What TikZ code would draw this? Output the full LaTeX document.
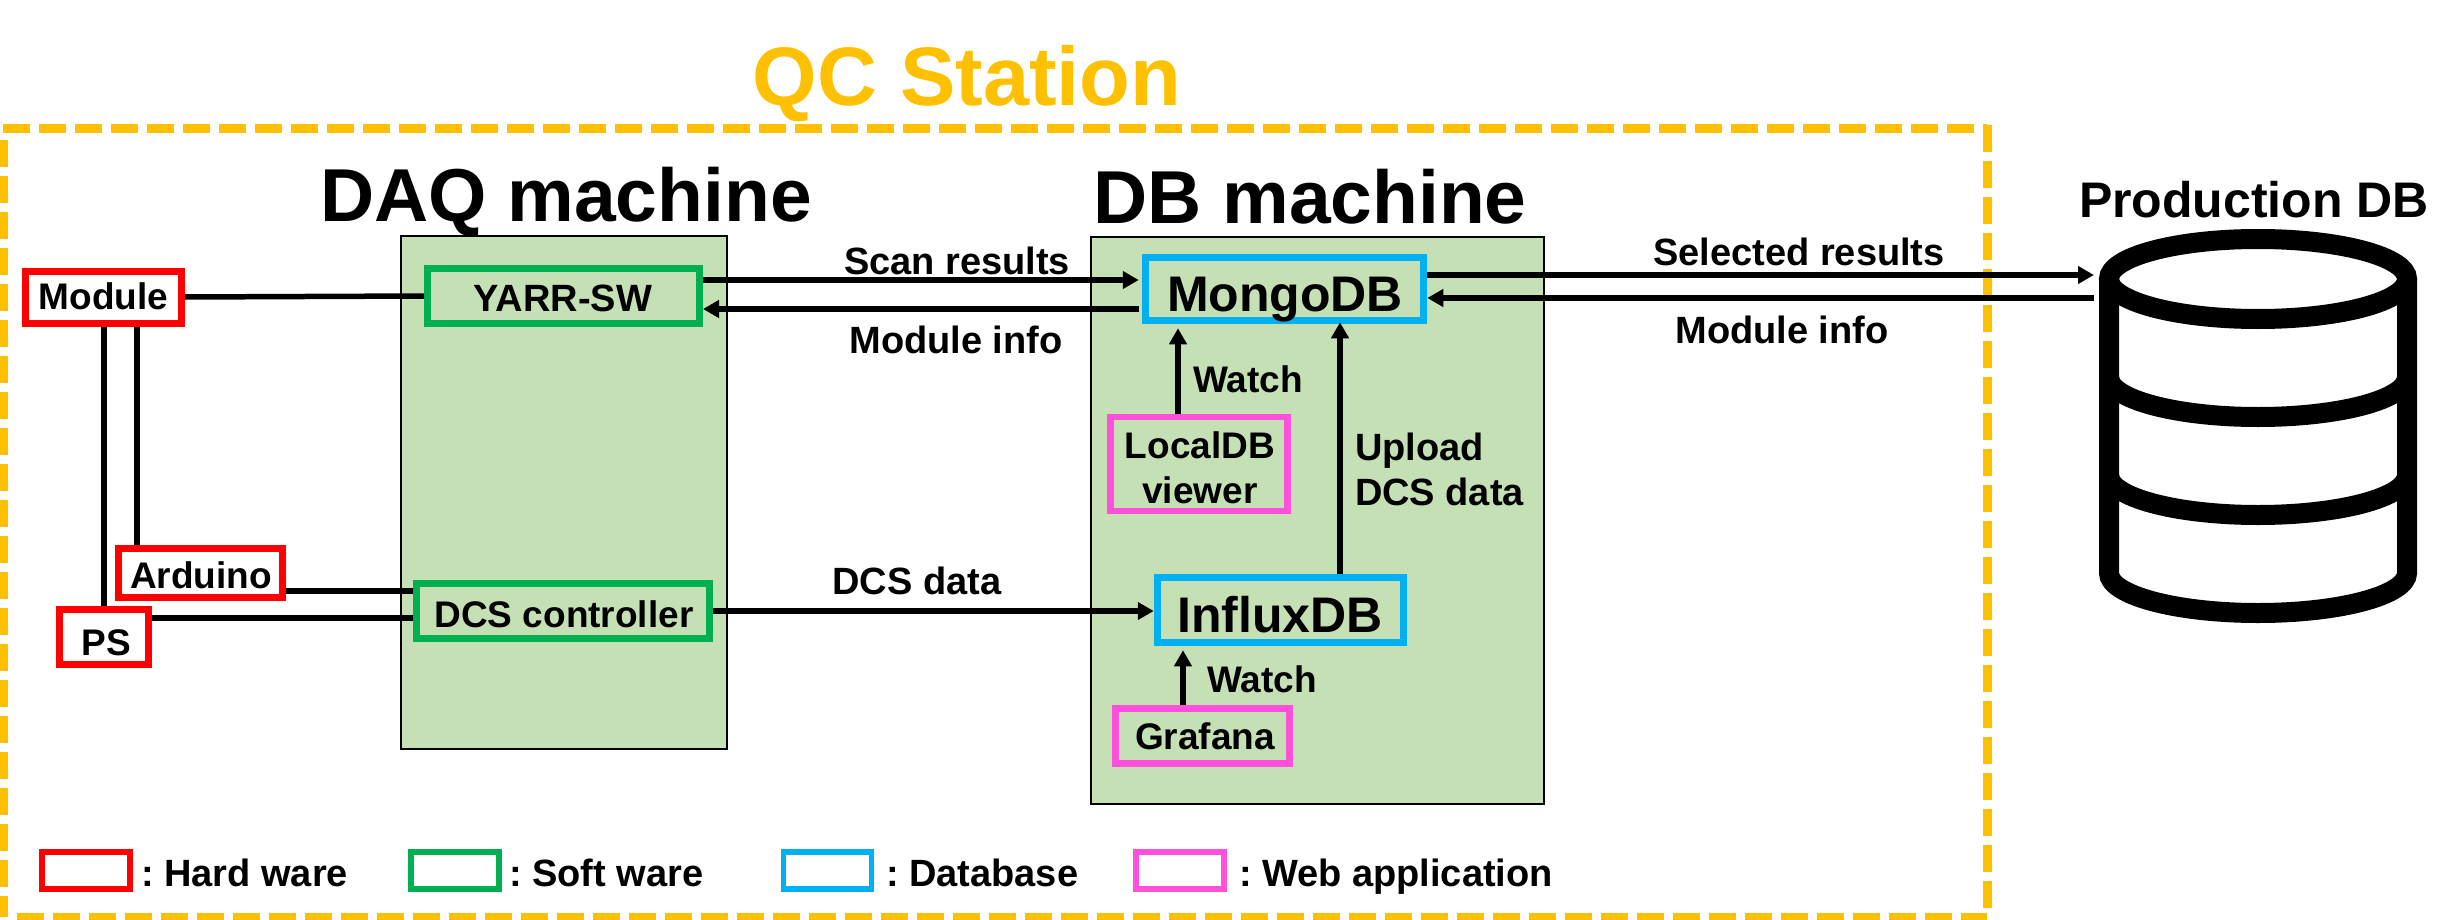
\documentclass[tikz,border=0pt]{standalone}
\usepackage{fontspec}
\setmainfont{Liberation Sans}[BoldFont={Liberation Sans Bold}]
\usetikzlibrary{arrows.meta}
\definecolor{qcorange}{RGB}{255,192,0}
\definecolor{machgreen}{RGB}{197,224,180}
\definecolor{hwred}{RGB}{255,0,0}
\definecolor{swgreen}{RGB}{0,176,80}
\definecolor{dbblue}{RGB}{0,176,240}
\definecolor{webpink}{RGB}{255,80,220}
\newcommand{\fs}[1]{\fontsize{#1}{#1}\selectfont\bfseries\frenchspacing}
\tikzset{
  x=1pt,y=-1pt,
  machine/.style={draw=black,line width=2.5pt,fill=machgreen},
  hw/.style={draw=hwred,line width=7pt,fill=white},
  sw/.style={draw=swgreen,line width=7pt},
  dbx/.style={draw=dbblue,line width=7.5pt},
  web/.style={draw=webpink,line width=6.5pt},
  box/.style={inner sep=0pt,align=center},
  lbl/.style={inner sep=0pt,outer sep=0pt,anchor=base,text=black},
  lbw/.style={lbl,anchor=base west},
  dashside/.style={qcorange,line width=9pt,dash pattern=on 27pt off 9pt},
  legendbox/.style={line width=5.5pt},
  wire/.style={line width=5.5pt,draw=black},
  arr/.style={wire,-{Triangle[length=16pt,width=17pt]}},
  bar/.style={line width=20pt,draw=black}
}
\begin{document}
\begin{tikzpicture}
\useasboundingbox (0,0) rectangle (2464,920);
% QC frame
\node[lbl,text=qcorange] (qc) at (967,106) {\fs{83}QC Station};
\draw[dashside] (3,129) -- (1987,129);
\draw[dashside] (1987,125) -- (1987,917);
\draw[dashside] (17,917) -- (1987,917);
\draw[dashside] (3,140) -- (3,917);
% machines
\draw[machine] (401,236) rectangle (727,749);
\draw[machine] (1091,237) rectangle (1544,804);
\node[lbl] (daq) at (566,222) {\fs{75}DAQ machine};
\node[lbl] (dbm) at (1310,223) {\fs{75}DB machine};
\node[lbl] (prod) at (2254,218) {\fs{50}Production DB};
% boxes
\node[box,hw,minimum width=156pt,minimum height=52pt] (module) at (103.5,297) {};
\node[lbl] at (103.5,309) {\fs{37}Module};
\node[box,hw,minimum width=164pt,minimum height=49pt] (arduino) at (200.5,573) {};
\node[lbl] at (201,588) {\fs{37}Arduino};
\node[box,hw,minimum width=89pt,minimum height=55pt] (ps) at (104,637) {};
\node[lbl] at (106,655) {\fs{37}PS};
\node[box,sw,minimum width=272pt,minimum height=55pt] (yarr) at (563.5,296) {};
\node[lbl] at (563,311) {\fs{38}YARR-SW};
\node[box,sw,minimum width=293pt,minimum height=55pt] (dcs) at (563,611) {};
\node[lbl] at (564,627) {\fs{37}DCS controller};
\node[box,dbx,minimum width=278pt,minimum height=63pt] (mongo) at (1284.5,289) {};
\node[lbl] at (1285,311) {\fs{50}MongoDB};
\node[box,dbx,minimum width=246pt,minimum height=65pt] (influx) at (1280.5,610) {};
\node[lbl] at (1280,632) {\fs{50}InfluxDB};
\node[box,web,minimum width=177pt,minimum height=94pt] (localdb) at (1199,464) {};
\node[lbl] at (1200,458) {\fs{37}LocalDB};
\node[lbl] at (1200,503) {\fs{37}viewer};
\node[box,web,minimum width=174pt,minimum height=55pt] (grafana) at (1202.5,736) {};
\node[lbl] at (1205,749) {\fs{37}Grafana};
\coordinate (cyl) at (2094,286);
% wires
\draw[wire] (module.east) -- (yarr.west);
\draw[wire] (104,0 |- module.south) -- (104,0 |- ps.north);
\draw[wire] (137,0 |- module.south) -- (137,0 |- arduino.north);
\draw[wire] (arduino.east |- 0,591) -- (dcs.west |- 0,591);
\draw[wire] (ps.east |- 0,618) -- (dcs.west |- 0,618);
\draw[arr,shorten >=3pt] (yarr.east |- 0,280) -- (mongo.west |- 0,280);
\draw[arr,shorten <=3pt] (mongo.west |- 0,309) -- (yarr.east |- 0,309);
\draw[arr] (dcs.east |- 0,611) -- (influx.west |- 0,611);
\draw[arr] (mongo.east |- 0,275) -- (cyl |- 0,275);
\draw[arr] (cyl |- 0,298) -- (mongo.east |- 0,298);
\draw[arr,shorten >=4pt] (1178,0 |- localdb.north) -- (1178,0 |- mongo.south);
\draw[arr,shorten >=-2pt] (1340,0 |- influx.north) -- (1340,0 |- mongo.south);
\draw[arr,shorten >=4pt] (1183,0 |- grafana.north) -- (1183,0 |- influx.south);
% labels
\node[lbl] at (957,274) {\fs{38}Scan results};
\node[lbl] at (956,353) {\fs{38}Module info};
\node[lbl] at (917,594) {\fs{38}DCS data};
\node[lbl] at (1248,392) {\fs{37}Watch};
\node[lbl] at (1262,692) {\fs{37}Watch};
\node[lbl,anchor=base west] at (1355,460) {\fs{38}Upload};
\node[lbl,anchor=base west] at (1355,505) {\fs{38}DCS data};
\node[lbl] at (1799,265) {\fs{38}Selected results};
\node[lbl] at (1782,343) {\fs{38}Module info};
% cylinder
\draw[bar] (2109,279) -- (2109,573) arc[x radius=149,y radius=40,start angle=180,end angle=0] -- (2407,279);
\draw[bar] (2258,279) ellipse[x radius=149,y radius=40];
\draw[bar] (2109,377) arc[x radius=149,y radius=40,start angle=180,end angle=0];
\draw[bar] (2109,475) arc[x radius=149,y radius=40,start angle=180,end angle=0];
% legend
\node[box,draw=hwred,legendbox,minimum width=88pt,minimum height=37pt] (lhw) at (86,870.5) {};
\node[box,draw=swgreen,legendbox,minimum width=88pt,minimum height=37pt] (lsw) at (455,870.5) {};
\node[box,draw=dbblue,legendbox,minimum width=88pt,minimum height=37pt] (ldb) at (827.5,870.5) {};
\node[box,draw=webpink,legendbox,minimum width=88pt,minimum height=37pt] (lweb) at (1180,870.5) {};
\node[lbw] at (141,886) {\fs{38}: Hard ware};
\node[lbw] at (509,886) {\fs{38}: Soft ware};
\node[lbw] at (886,886) {\fs{38}: Database};
\node[lbw] at (1239,886) {\fs{38}: Web application};
\end{tikzpicture}
\end{document}
